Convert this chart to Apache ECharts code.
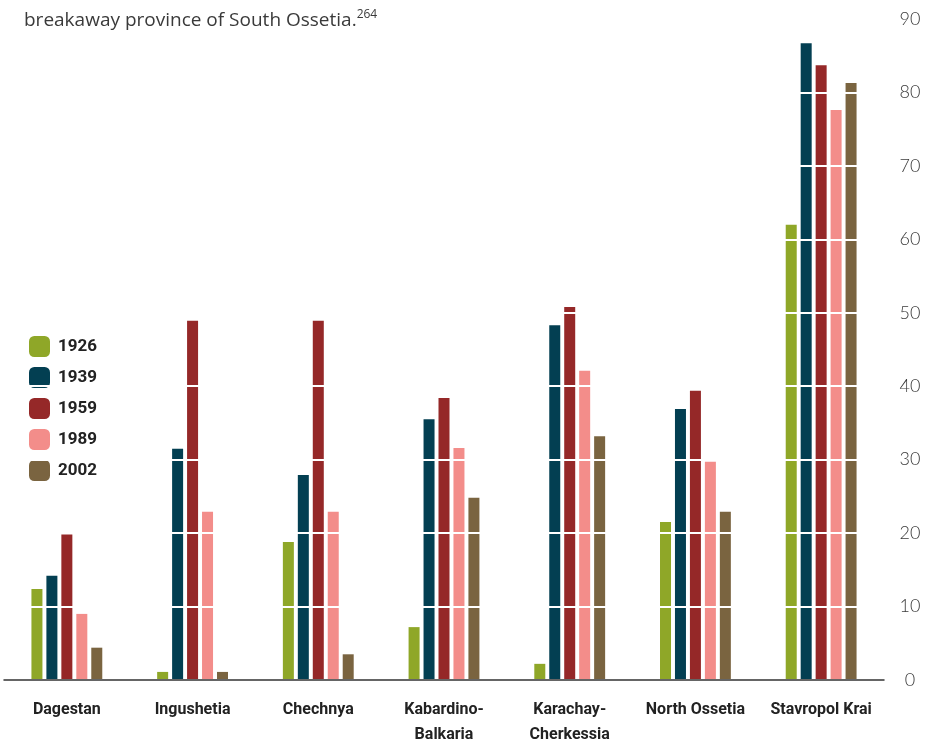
<!DOCTYPE html>
<html>
<head>
<meta charset="utf-8">
<script src="https://cdn.jsdelivr.net/npm/echarts@6/dist/echarts.min.js"></script>
<style>
  html, body { margin: 0; padding: 0; background: #fff; }
  #container { width: 933px; height: 744px; }
</style>
</head>
<body>
<div id="container"></div>
<script>
// data
const regions = ['Dagestan', 'Ingushetia', 'Chechnya', 'Kabardino-\nBalkaria', 'Karachay-\nCherkessia', 'North Ossetia', 'Stavropol Krai'];
const years = ['1926', '1939', '1959', '1989', '2002'];
const colors = ['#8fa728', '#033f52', '#952828', '#f38d8a', '#7a6440'];
const v1926 = [12.4, 1.1, 18.8, 7.2, 2.2, 21.5, 62.0];
const v1939 = [14.2, 31.5, 27.9, 35.5, 48.3, 36.9, 86.7];
const v1959 = [19.8, 48.9, 48.9, 38.4, 50.8, 39.4, 83.7];
const v1989 = [9.0, 22.9, 22.9, 31.6, 42.1, 29.7, 77.6];
const v2002 = [4.4, 1.1, 3.5, 24.8, 33.2, 22.9, 81.3];
const yTicks = [0, 10, 20, 30, 40, 50, 60, 70, 80, 90];

const values = [v1926, v1939, v1959, v1989, v2002];

var dom = document.getElementById('container');
var myChart = echarts.init(dom, null, { renderer: 'canvas' });

var option = {
    backgroundColor: '#fff',
    animation: false,
    graphic: [{
        type: 'text',
        left: 24,
        top: 9,
        z: 20,
        style: {
            text: '{m|breakaway province of South Ossetia.}{s|264}',
            rich: {
                m: { fontFamily: 'Open Sans', fontSize: 19, fill: '#3a3a3a', lineHeight: 24 },
                s: { fontFamily: 'Open Sans', fontSize: 12, fill: '#3a3a3a', lineHeight: 24, verticalAlign: 'top' }
            }
        }
    }],
    legend: {
        orient: 'vertical',
        left: 24,
        top: 331,
        itemWidth: 21,
        itemHeight: 21,
        itemGap: 10,
        icon: 'roundRect',
        data: years,
        textStyle: { fontFamily: 'Roboto', fontWeight: 'bold', fontSize: 17, color: '#222', padding: [0, 0, 0, 3] }
    },
    grid: { left: 4, right: 49, top: 19, bottom: 64, outerBoundsMode: 'none' },
    xAxis: {
        type: 'category',
        data: regions,
        z: 6,
        axisTick: { show: false },
        axisLine: { lineStyle: { color: '#333', width: 1.5 } },
        axisLabel: {
            interval: 0,
            margin: 17,
            fontFamily: 'Roboto',
            fontWeight: 'bold',
            fontSize: 16,
            lineHeight: 25,
            color: '#222'
        }
    },
    yAxis: {
        type: 'value',
        position: 'right',
        min: 0,
        max: 90,
        interval: 10,
        z: 5,
        axisLine: { show: false },
        axisTick: { show: false },
        splitLine: { lineStyle: { color: '#fff', width: 2 } },
        axisLabel: {
            margin: 26,
            align: 'center',
            fontFamily: 'Lato',
            fontWeight: 300,
            fontSize: 18,
            color: '#3a3a3a',
            formatter: function (v) { return yTicks.indexOf(v) >= 0 ? String(v) : ''; }
        }
    },
    series: years.map(function (y, i) {
        return {
            name: y,
            type: 'bar',
            barWidth: 11,
            barGap: '36%',
            itemStyle: { color: colors[i] },
            data: values[i]
        };
    })
};

myChart.setOption(option);
window.addEventListener('resize', myChart.resize);
</script>
</body>
</html>
